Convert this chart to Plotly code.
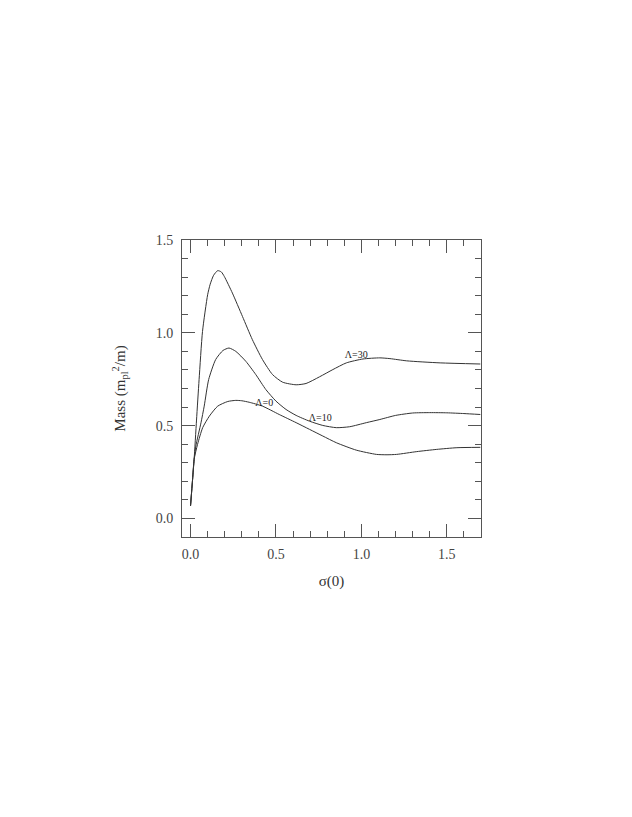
import plotly.graph_objects as go

# curve data: sigma(0) vs mass
sigma_l0 = [0.0, 0.012, 0.021, 0.041, 0.071, 0.11, 0.159, 0.218, 0.265, 0.30, 0.343, 0.421,
            0.519, 0.618, 0.696, 0.774, 0.853, 0.97, 1.088, 1.15, 1.206, 1.324, 1.441, 1.559, 1.696]
mass_l0 = [0.068, 0.211, 0.318, 0.399, 0.489, 0.551, 0.605, 0.63, 0.636, 0.634, 0.626, 0.605,
           0.56, 0.516, 0.48, 0.444, 0.408, 0.368, 0.345, 0.343, 0.345, 0.36, 0.372, 0.381, 0.383]

sigma_l10 = [0.0, 0.012, 0.021, 0.031, 0.061, 0.08, 0.106, 0.147, 0.19, 0.225, 0.265, 0.324,
             0.382, 0.441, 0.5, 0.559, 0.618, 0.696, 0.774, 0.853, 0.931, 1.029, 1.108, 1.2,
             1.3, 1.4, 1.5, 1.6, 1.696]
mass_l10 = [0.068, 0.211, 0.318, 0.39, 0.515, 0.605, 0.748, 0.856, 0.905, 0.918, 0.90, 0.846,
            0.775, 0.694, 0.632, 0.587, 0.555, 0.524, 0.501, 0.489, 0.494, 0.516, 0.533, 0.555,
            0.568, 0.570, 0.569, 0.565, 0.560]

sigma_l30 = [0.0, 0.012, 0.021, 0.035, 0.05, 0.07, 0.10, 0.115, 0.135, 0.159, 0.18, 0.198,
             0.245, 0.304, 0.362, 0.421, 0.48, 0.539, 0.618, 0.676, 0.755, 0.833, 0.912,
             1.009, 1.108, 1.167, 1.265, 1.461, 1.696]
mass_l30 = [0.068, 0.211, 0.318, 0.53, 0.748, 1.007, 1.205, 1.262, 1.31, 1.335, 1.328, 1.303,
            1.214, 1.088, 0.963, 0.856, 0.775, 0.734, 0.720, 0.727, 0.763, 0.802, 0.838,
            0.859, 0.865, 0.861, 0.849, 0.838, 0.832]

labels = ["Λ=0", "Λ=10", "Λ=30"]
label_x = [0.431, 0.759, 0.97]
label_y = [0.619, 0.539, 0.879]

line_col = "#333333"
frame_col = "#555555"
font_name = "Liberation Serif"

fig = go.Figure()
for xs, ys in [(sigma_l0, mass_l0), (sigma_l10, mass_l10), (sigma_l30, mass_l30)]:
    fig.add_trace(go.Scatter(x=xs, y=ys, mode='lines',
                             line=dict(color=line_col, width=1, shape='spline', smoothing=0.6),
                             showlegend=False, hoverinfo='skip'))

fig.add_trace(go.Scatter(x=label_x, y=label_y, mode='text', text=labels,
                         textfont=dict(family=font_name, size=10, color="#222222"),
                         showlegend=False, hoverinfo='skip'))

axis_common = dict(
    showgrid=False, zeroline=False, showline=True, linecolor=frame_col, linewidth=1,
    mirror='allticks', ticks='inside', ticklen=13, tickwidth=1, tickcolor=frame_col,
    tickfont=dict(family=font_name, size=14, color="#444444"),
    minor=dict(ticks='inside', ticklen=6, tickwidth=1, tickcolor=frame_col,
               tick0=0.0, dtick=0.1, showgrid=False),
    tickvals=[0.0, 0.5, 1.0, 1.5], ticktext=["0.0", "0.5", "1.0", "1.5"],
)

fig.update_xaxes(range=[-0.05, 1.7], ticklabelstandoff=4,
                 title=dict(text="σ(0)", standoff=14,
                            font=dict(family=font_name, size=15, color="#333333")), **axis_common)
fig.update_yaxes(range=[-0.1, 1.5], ticklabelstandoff=5,
                 title=dict(text="Mass (m<sub>pl</sub><sup>2</sup>/m)", standoff=26,
                            font=dict(family=font_name, size=15, color="#333333")), **axis_common)

# page body adds 8px, so margins are shifted to compensate
fig.update_layout(width=632, height=817, plot_bgcolor='white', paper_bgcolor='white',
                  margin=dict(l=174, r=159, t=232, b=288))

fig.write_html("out.html")
